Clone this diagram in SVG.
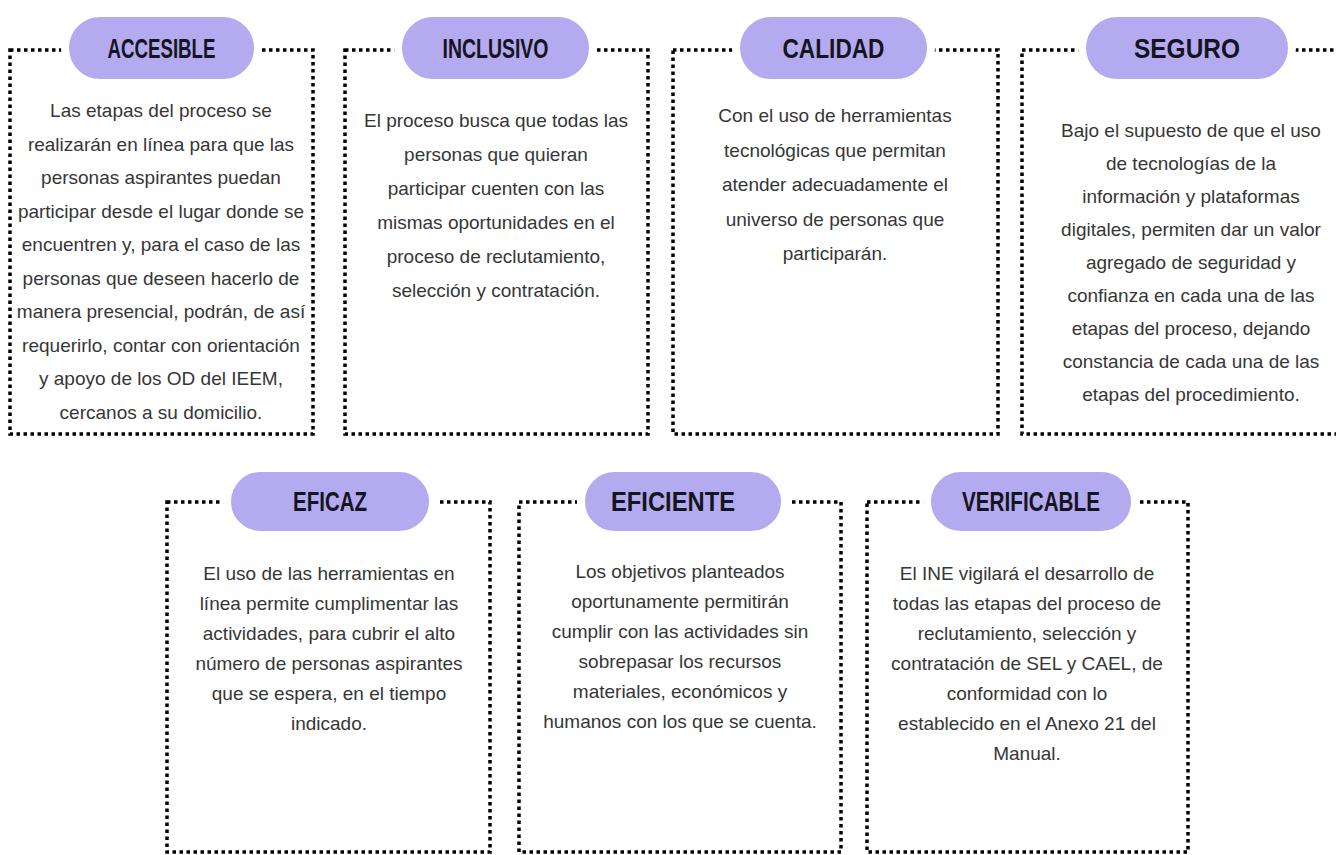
<svg xmlns="http://www.w3.org/2000/svg" width="1336" height="855" viewBox="0 0 1336 855">
<style>
.box{fill:none;stroke:#000;stroke-width:3.5;stroke-dasharray:3.5 3.5}
.pill{fill:#b4aaf0;stroke:#fff;stroke-width:8}
.hd{font-family:"Liberation Sans",Arial,sans-serif;font-weight:bold;font-size:28px;fill:#15151f;text-anchor:middle}
.tx{font-family:"Liberation Sans",Arial,sans-serif;font-size:19px;fill:#363636;text-anchor:middle}
</style>
<rect width="1336" height="855" fill="#fff"/>

<g id="accesible">
<rect class="box" x="10" y="50" width="303" height="384"/>
<rect class="pill" x="65" y="13" width="193" height="70" rx="35"/>
<text class="hd" x="161.5" y="58" textLength="108" lengthAdjust="spacingAndGlyphs">ACCESIBLE</text>
<text class="tx" x="161" y="117">Las etapas del proceso se</text>
<text class="tx" x="161" y="150.5">realizarán en línea para que las</text>
<text class="tx" x="161" y="184">personas aspirantes puedan</text>
<text class="tx" x="161" y="217.5">participar desde el lugar donde se</text>
<text class="tx" x="161" y="251">encuentren y, para el caso de las</text>
<text class="tx" x="161" y="284.5">personas que deseen hacerlo de</text>
<text class="tx" x="161" y="318">manera presencial, podrán, de así</text>
<text class="tx" x="161" y="351.5">requerirlo, contar con orientación</text>
<text class="tx" x="161" y="385">y apoyo de los OD del IEEM,</text>
<text class="tx" x="161" y="418.5">cercanos a su domicilio.</text>
</g>

<g id="inclusivo">
<rect class="box" x="345" y="50" width="303" height="384"/>
<rect class="pill" x="398" y="13" width="195" height="70" rx="35"/>
<text class="hd" x="495.5" y="58" textLength="106" lengthAdjust="spacingAndGlyphs">INCLUSIVO</text>
<text class="tx" x="496" y="127">El proceso busca que todas las</text>
<text class="tx" x="496" y="161">personas que quieran</text>
<text class="tx" x="496" y="195">participar cuenten con las</text>
<text class="tx" x="496" y="229">mismas oportunidades en el</text>
<text class="tx" x="496" y="263">proceso de reclutamiento,</text>
<text class="tx" x="496" y="297">selección y contratación.</text>
</g>

<g id="calidad">
<rect class="box" x="673" y="50" width="325" height="384"/>
<rect class="pill" x="736" y="13" width="195" height="70" rx="35"/>
<text class="hd" x="833.5" y="58" textLength="102" lengthAdjust="spacingAndGlyphs">CALIDAD</text>
<text class="tx" x="835" y="122">Con el uso de herramientas</text>
<text class="tx" x="835" y="156.5">tecnológicas que permitan</text>
<text class="tx" x="835" y="191">atender adecuadamente el</text>
<text class="tx" x="835" y="225.5">universo de personas que</text>
<text class="tx" x="835" y="260">participarán.</text>
</g>

<g id="seguro">
<rect class="box" x="1022" y="50" width="330" height="384"/>
<rect class="pill" x="1082" y="13" width="210" height="70" rx="35"/>
<text class="hd" x="1187" y="58" textLength="106" lengthAdjust="spacingAndGlyphs">SEGURO</text>
<text class="tx" x="1191" y="137">Bajo el supuesto de que el uso</text>
<text class="tx" x="1191" y="170">de tecnologías de la</text>
<text class="tx" x="1191" y="203">información y plataformas</text>
<text class="tx" x="1191" y="236">digitales, permiten dar un valor</text>
<text class="tx" x="1191" y="269">agregado de seguridad y</text>
<text class="tx" x="1191" y="302">confianza en cada una de las</text>
<text class="tx" x="1191" y="335">etapas del proceso, dejando</text>
<text class="tx" x="1191" y="368">constancia de cada una de las</text>
<text class="tx" x="1191" y="401">etapas del procedimiento.</text>
</g>

<g id="eficaz">
<rect class="box" x="167" y="502" width="323" height="350"/>
<rect class="pill" x="227" y="468" width="206" height="67" rx="33.5"/>
<text class="hd" x="330" y="511" textLength="74" lengthAdjust="spacingAndGlyphs">EFICAZ</text>
<text class="tx" x="329" y="580">El uso de las herramientas en</text>
<text class="tx" x="329" y="610">línea permite cumplimentar las</text>
<text class="tx" x="329" y="640">actividades, para cubrir el alto</text>
<text class="tx" x="329" y="670">número de personas aspirantes</text>
<text class="tx" x="329" y="700">que se espera, en el tiempo</text>
<text class="tx" x="329" y="730">indicado.</text>
</g>

<g id="eficiente">
<rect class="box" x="519" y="502" width="322" height="350"/>
<rect class="pill" x="581" y="468" width="204" height="67" rx="33.5"/>
<text class="hd" x="673" y="511" textLength="124" lengthAdjust="spacingAndGlyphs">EFICIENTE</text>
<text class="tx" x="680" y="578">Los objetivos planteados</text>
<text class="tx" x="680" y="608">oportunamente permitirán</text>
<text class="tx" x="680" y="638">cumplir con las actividades sin</text>
<text class="tx" x="680" y="668">sobrepasar los recursos</text>
<text class="tx" x="680" y="698">materiales, económicos y</text>
<text class="tx" x="680" y="728">humanos con los que se cuenta.</text>
</g>

<g id="verificable">
<rect class="box" x="867" y="502" width="321" height="350"/>
<rect class="pill" x="927" y="468" width="208" height="67" rx="33.5"/>
<text class="hd" x="1031" y="511" textLength="138" lengthAdjust="spacingAndGlyphs">VERIFICABLE</text>
<text class="tx" x="1027" y="580">El INE vigilará el desarrollo de</text>
<text class="tx" x="1027" y="610">todas las etapas del proceso de</text>
<text class="tx" x="1027" y="640">reclutamiento, selección y</text>
<text class="tx" x="1027" y="670">contratación de SEL y CAEL, de</text>
<text class="tx" x="1027" y="700">conformidad con lo</text>
<text class="tx" x="1027" y="730">establecido en el Anexo 21 del</text>
<text class="tx" x="1027" y="760">Manual.</text>
</g>
</svg>
